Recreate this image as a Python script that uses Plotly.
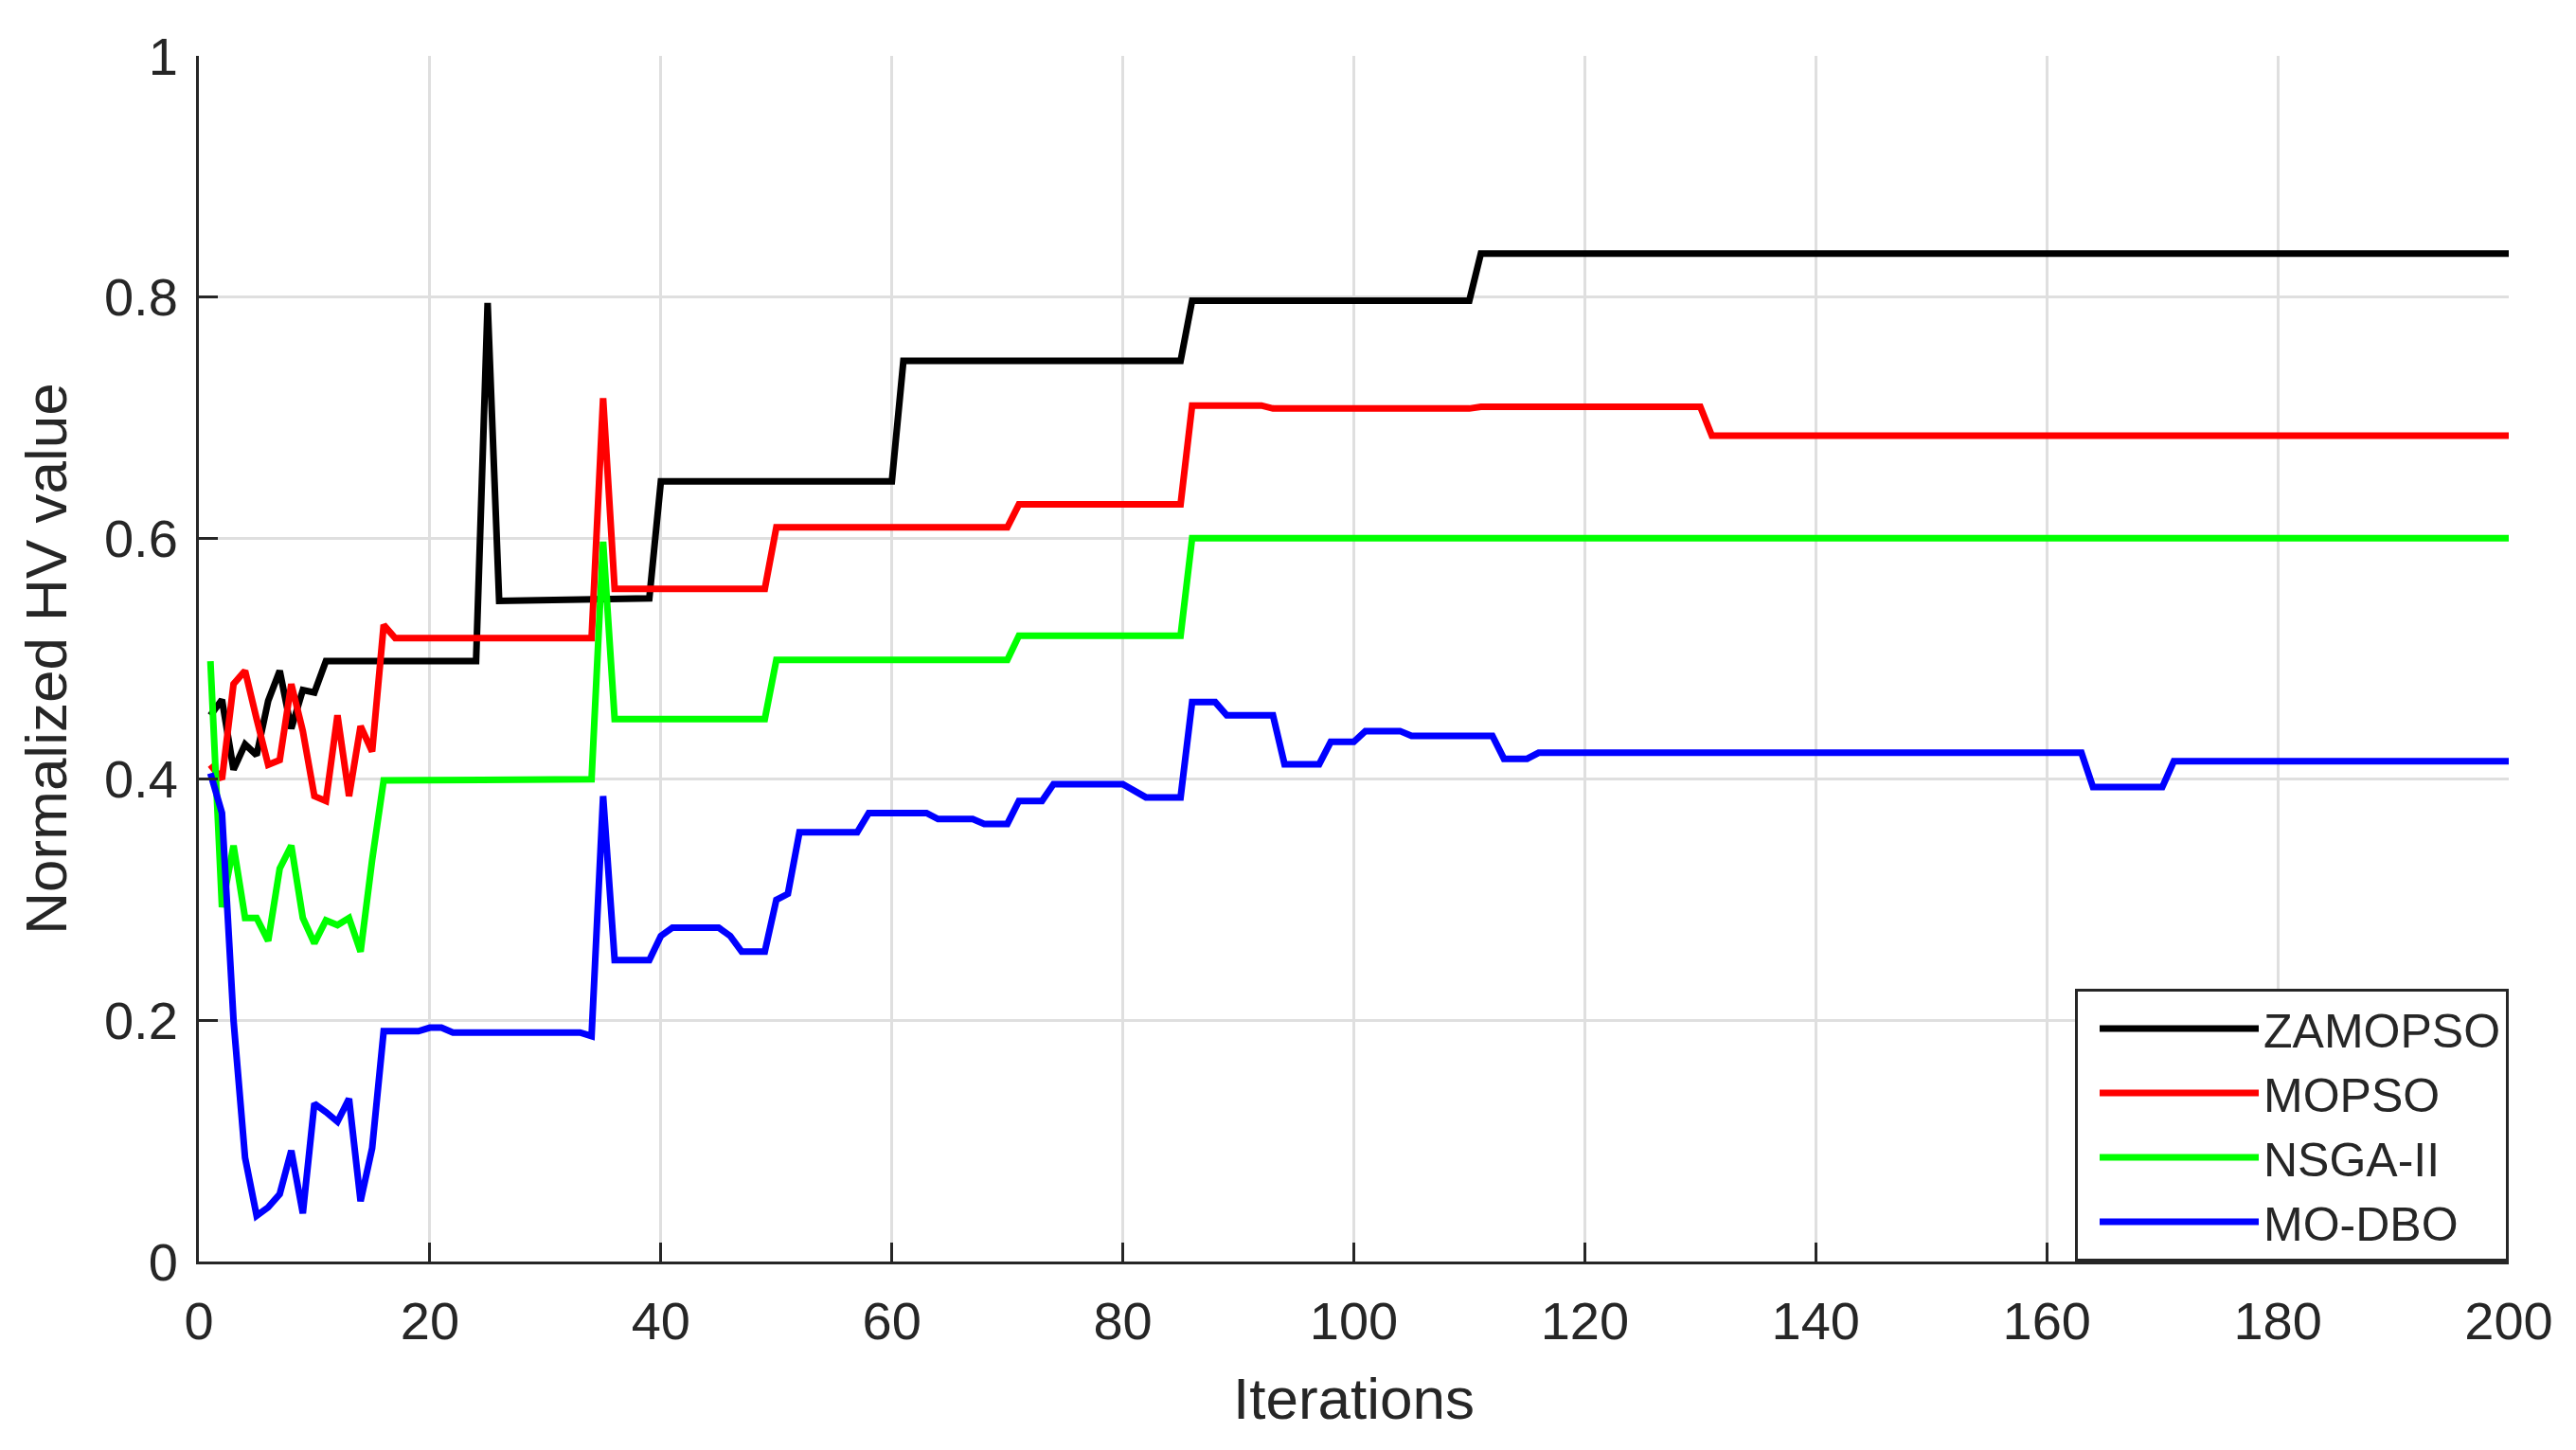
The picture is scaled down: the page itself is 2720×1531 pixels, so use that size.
import plotly.graph_objects as go

# ---- data (iteration, normalized HV) ----
zamopso_x = [1, 2, 3, 4, 5, 6, 7, 8, 9, 10, 11, 24, 25, 26, 39, 40, 60, 61, 85, 86, 110, 111, 200]
zamopso_y = [0.453, 0.466, 0.408, 0.429, 0.420, 0.465, 0.490, 0.442, 0.474, 0.472, 0.498, 0.498, 0.795,
             0.548, 0.550, 0.647, 0.647, 0.747, 0.747, 0.797, 0.797, 0.836, 0.836]

mopso_x = [1, 2, 3, 4, 5, 6, 7, 8, 9, 10, 11, 12, 13, 14, 15, 16, 17, 34, 35, 36, 49, 50, 70, 71, 85, 86,
           92, 93, 110, 111, 130, 131, 200]
mopso_y = [0.412, 0.400, 0.479, 0.490, 0.450, 0.412, 0.416, 0.479, 0.440, 0.386, 0.382, 0.453, 0.386,
           0.444, 0.423, 0.528, 0.517, 0.517, 0.716, 0.558, 0.558, 0.609, 0.609, 0.628, 0.628, 0.710,
           0.710, 0.7075, 0.7075, 0.709, 0.709, 0.685, 0.685]

nsga_x = [1, 2, 3, 4, 5, 6, 7, 8, 9, 10, 11, 12, 13, 14, 15, 16, 34, 35, 36, 49, 50, 70, 71, 85, 86, 200]
nsga_y = [0.498, 0.294, 0.345, 0.285, 0.285, 0.266, 0.326, 0.345, 0.285, 0.264, 0.283, 0.279, 0.285,
          0.257, 0.333, 0.399, 0.400, 0.597, 0.450, 0.450, 0.499, 0.499, 0.519, 0.519, 0.600, 0.600]

modbo_x = [1, 2, 3, 4, 5, 6, 7, 8, 9, 10, 11, 12, 13, 14, 15, 16, 19, 20, 21, 22, 33, 34, 35, 36, 39, 40,
           41, 45, 46, 47, 49, 50, 51, 52, 57, 58, 63, 64, 67, 68, 70, 71, 73, 74, 80, 81, 82, 85, 86,
           88, 89, 93, 94, 97, 98, 100, 101, 104, 105, 112, 113, 115, 116, 163, 164, 170, 171, 200]
modbo_y = [0.405, 0.372, 0.200, 0.086, 0.038, 0.045, 0.056, 0.092, 0.040, 0.131, 0.124, 0.116, 0.135,
           0.050, 0.094, 0.191, 0.191, 0.194, 0.194, 0.190, 0.190, 0.187, 0.386, 0.250, 0.250, 0.270,
           0.277, 0.277, 0.270, 0.257, 0.257, 0.300, 0.305, 0.356, 0.356, 0.372, 0.372, 0.367, 0.367,
           0.363, 0.363, 0.382, 0.382, 0.396, 0.396, 0.390, 0.385, 0.385, 0.464, 0.464, 0.453, 0.453,
           0.4125, 0.4125, 0.431, 0.431, 0.440, 0.440, 0.436, 0.436, 0.417, 0.417, 0.422, 0.422,
           0.3935, 0.3935, 0.415, 0.415]

series_names = ["ZAMOPSO", "MOPSO", "NSGA-II", "MO-DBO"]
series_colors = ["#000000", "#ff0000", "#00ff00", "#0000ff"]

x_ticks = [0, 20, 40, 60, 80, 100, 120, 140, 160, 180, 200]
y_ticks = [0, 0.2, 0.4, 0.6, 0.8, 1]
y_tick_text = ["0", "0.2", "0.4", "0.6", "0.8", "1"]

FONT = "Liberation Sans, Arial, sans-serif"
AX = "#262626"
GRID = "#dfdfdf"

fig = go.Figure()
for name, color, xs, ys in zip(series_names, series_colors,
                               [zamopso_x, mopso_x, nsga_x, modbo_x],
                               [zamopso_y, mopso_y, nsga_y, modbo_y]):
    fig.add_trace(go.Scatter(x=xs, y=ys, mode="lines", name=name,
                             line=dict(color=color, width=7)))

# page body has an 8px default margin, so the figure is 8px smaller and margins shifted
fig.update_layout(
    width=2712, height=1523, autosize=False,
    margin=dict(l=202, r=71, t=51, b=199, pad=0),
    paper_bgcolor="white", plot_bgcolor="white",
    font=dict(family=FONT, color=AX, size=56),
    showlegend=True,
    legend=dict(x=1, y=0, xanchor="right", yanchor="bottom",
                bgcolor="white", bordercolor=AX, borderwidth=3,
                font=dict(size=50, color=AX), itemwidth=168,
                indentation=18, tracegroupgap=0),
)
fig.update_xaxes(range=[0, 200], tickvals=x_ticks, ticktext=[str(v) for v in x_ticks],
                 showgrid=True, gridcolor=GRID, gridwidth=2.5, zeroline=False,
                 showline=True, linecolor=AX, linewidth=3, mirror=False,
                 ticks="inside", ticklen=20, tickwidth=3, tickcolor=AX,
                 ticklabelstandoff=12,
                 title=dict(text="Iterations", font=dict(size=62, color=AX), standoff=30))
fig.update_yaxes(range=[0, 1], tickvals=y_ticks, ticktext=y_tick_text,
                 showgrid=True, gridcolor=GRID, gridwidth=2.5, zeroline=False,
                 showline=True, linecolor=AX, linewidth=3, mirror=False,
                 ticks="inside", ticklen=20, tickwidth=3, tickcolor=AX,
                 ticklabelstandoff=8,
                 title=dict(text="Normalized HV value", font=dict(size=62, color=AX), standoff=20))

fig.write_html("out.html")
